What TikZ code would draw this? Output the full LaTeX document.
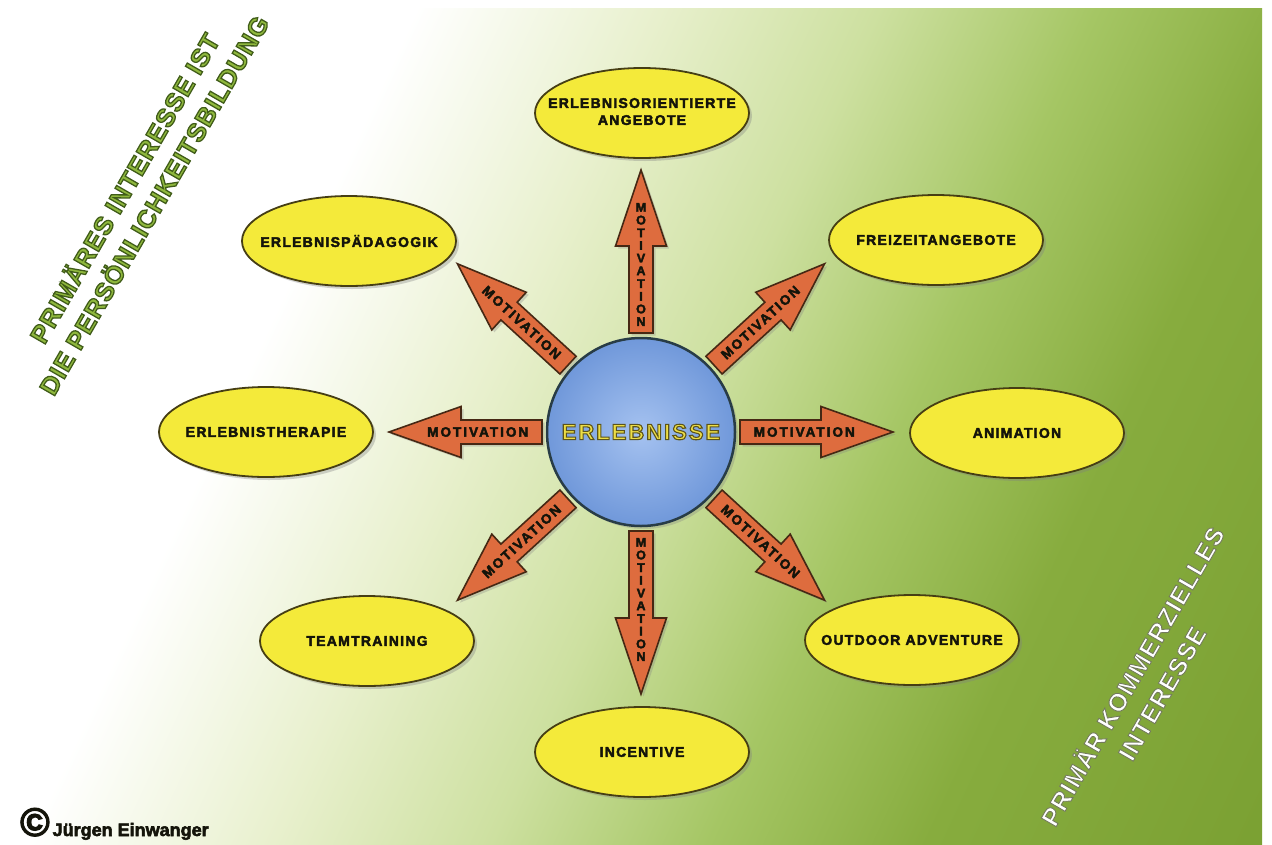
\documentclass[tikz,border=0pt]{standalone}
\usepackage{fontspec}
\setmainfont{Liberation Sans}
\newfontfamily\labfont[LetterSpace=9, BoldFeatures={FakeBold=3}]{Liberation Sans}
\newfontfamily\motfont[LetterSpace=15, BoldFeatures={FakeBold=3}]{Liberation Sans}
\newfontfamily\vfont[BoldFeatures={FakeBold=3}]{Liberation Sans}
\newfontfamily\hubfont[LetterSpace=9, BoldFeatures={FakeBold=5}]{Liberation Sans}
\newfontfamily\bigfont[LetterSpace=4, BoldFeatures={FakeBold=5}]{Liberation Sans}
\newfontfamily\whitefont[LetterSpace=4, BoldFeatures={FakeBold=3.5}]{Liberation Sans}
\usetikzlibrary{shapes.geometric,shadows}

\definecolor{bgA}{RGB}{232,240,205}
\definecolor{bgB}{RGB}{205,224,160}
\definecolor{bgC}{RGB}{165,198,100}
\definecolor{bgD}{RGB}{135,172,62}
\definecolor{bgE}{RGB}{122,160,50}
\definecolor{ellfill}{RGB}{244,234,58}
\definecolor{ellline}{RGB}{70,62,20}
\definecolor{arrfill}{RGB}{222,108,62}
\definecolor{arrline}{RGB}{70,40,20}
\definecolor{hubin}{RGB}{165,194,240}
\definecolor{hubout}{RGB}{112,152,218}
\definecolor{hubline}{RGB}{40,60,70}
\definecolor{inkblack}{RGB}{20,20,10}

\pgfdeclarehorizontalshading{bgshade}{100bp}{color(0bp)=(white); color(37.7bp)=(white); color(45bp)=(bgA); color(51.5bp)=(bgB); color(58bp)=(bgC); color(64.5bp)=(bgD); color(75bp)=(bgE); color(100bp)=(bgE)}

% fill colour, stroke colour (outlined text)
\newcommand\outl[3]{\special{pdf:bcolor [#1] [#2]}#3\special{pdf:ecolor}}

\newcommand\motarrow[7]{%
  \begin{scope}[shift={(hub.center)}, rotate=#2]
    \draw[marrow] (99,12) -- ({99+#4-#5},12) -- ({99+#4-#5},25.5) -- ({99+#4},0)
      -- ({99+#4-#5},-25.5) -- ({99+#4-#5},-12) -- (99,-12) -- cycle;
    \node[#6, rotate=#3] (#1) at ({99+0.42*#4},0) {#7};
  \end{scope}}

\tikzset{
  ell/.style={ellipse, draw=ellline, line width=1.8pt, fill=ellfill,
    minimum width=214pt, minimum height=90pt, inner sep=0pt,
    font=\labfont\bfseries\fontsize{14}{17}\selectfont, text=inkblack,
    drop shadow={opacity=0.35, shadow xshift=3pt, shadow yshift=-3pt}},
  marrow/.style={draw=arrline, line width=1.6pt, fill=arrfill, line join=miter,
    drop shadow={opacity=0.3, shadow xshift=2.5pt, shadow yshift=-2.5pt}},
  mtext/.style={font=\motfont\bfseries\fontsize{13.5}{14}\selectfont, text=inkblack, inner sep=0pt},
  vtext/.style={font=\vfont\bfseries\fontsize{12.5}{12.7}\selectfont, text=inkblack, align=center, inner sep=0pt},
}

\begin{document}
\begin{tikzpicture}[x=1pt, y=-1pt]
\useasboundingbox (0,0) rectangle (1272,844);
\fill[white] (0,0) rectangle (1272,844);
\begin{scope}
  \clip (0,8) rectangle (1262,844);
  \shade[shading=bgshade, transform canvas={rotate around={-25:(636,422)}}]
    (-124,-238) rectangle (1396,1082);
\end{scope}

% side texts
\node[rotate=60, align=center, inner sep=0pt, font=\bigfont\bfseries\fontsize{25.5}{34}\selectfont] (t1) at (138,196)
  {\outl{0.56 0.72 0.24}{0.25 0.36 0.1}{PRIMÄRES INTERESSE IST\\DIE PERSÖNLICHKEITSBILDUNG}};
\node[rotate=60, align=center, inner sep=0pt, font=\whitefont\bfseries\fontsize{25}{34}\selectfont] (t2) at (1146,684)
  {\outl{1 1 1}{0.45 0.48 0.36}{PRIMÄR KOMMERZIELLES\\INTERESSE}};

% ellipses
\node[ell] (e1) at (642,113) {\makebox[0pt]{\raisebox{-9pt}{\begin{tabular}{@{}c@{}}ERLEBNISORIENTIERTE\\ANGEBOTE\end{tabular}}}};
\node[ell] (e2) at (349,241) {\makebox[0pt]{ERLEBNISPÄDAGOGIK}};
\node[ell] (e3) at (936,240) {\makebox[0pt]{FREIZEITANGEBOTE}};
\node[ell] (e4) at (266,432) {\makebox[0pt]{ERLEBNISTHERAPIE}};
\node[ell] (e5) at (1017,433) {\makebox[0pt]{ANIMATION}};
\node[ell] (e6) at (367,641) {\makebox[0pt]{TEAMTRAINING}};
\node[ell] (e7) at (912,640) {\makebox[0pt]{OUTDOOR ADVENTURE}};
\node[ell] (e8) at (642,752) {\makebox[0pt]{INCENTIVE}};

% hub
\node[circle, minimum size=188pt, inner sep=0pt, draw=hubline, line width=2.5pt,
  inner color=hubin, outer color=hubout,
  drop shadow={opacity=0.3, shadow xshift=3pt, shadow yshift=-3pt},
  font=\hubfont\bfseries\fontsize{22}{24}\selectfont] (hub) at (641,432)
  {\outl{0.93 0.87 0.28}{0.36 0.33 0.1}{ERLEBNISSE}};

% arrows
\motarrow{m1}{0}{0}{153}{72}{mtext}{MOTIVATION}
\motarrow{m2}{42.5}{42.5}{150}{70}{mtext}{MOTIVATION}
\motarrow{m3}{90}{0}{163}{76}{vtext}{M\\O\\T\\I\\V\\A\\T\\I\\O\\N}
\motarrow{m4}{137.5}{-42.5}{150}{70}{mtext}{MOTIVATION}
\motarrow{m5}{180}{0}{153}{72}{mtext}{MOTIVATION}
\motarrow{m6}{-137.5}{42.5}{150}{70}{mtext}{MOTIVATION}
\motarrow{m7}{-90}{0}{163}{76}{vtext}{M\\O\\T\\I\\V\\A\\T\\I\\O\\N}
\motarrow{m8}{-42.5}{-42.5}{150}{70}{mtext}{MOTIVATION}

% copyright
\node[anchor=base west, inner sep=0pt, font=\vfont\bfseries, text=inkblack] (copy) at (20,836)
  {{\fontsize{40}{40}\selectfont ©}\hspace{3pt}{\fontsize{18}{20}\selectfont Jürgen Einwanger}};
\end{tikzpicture}
\end{document}
